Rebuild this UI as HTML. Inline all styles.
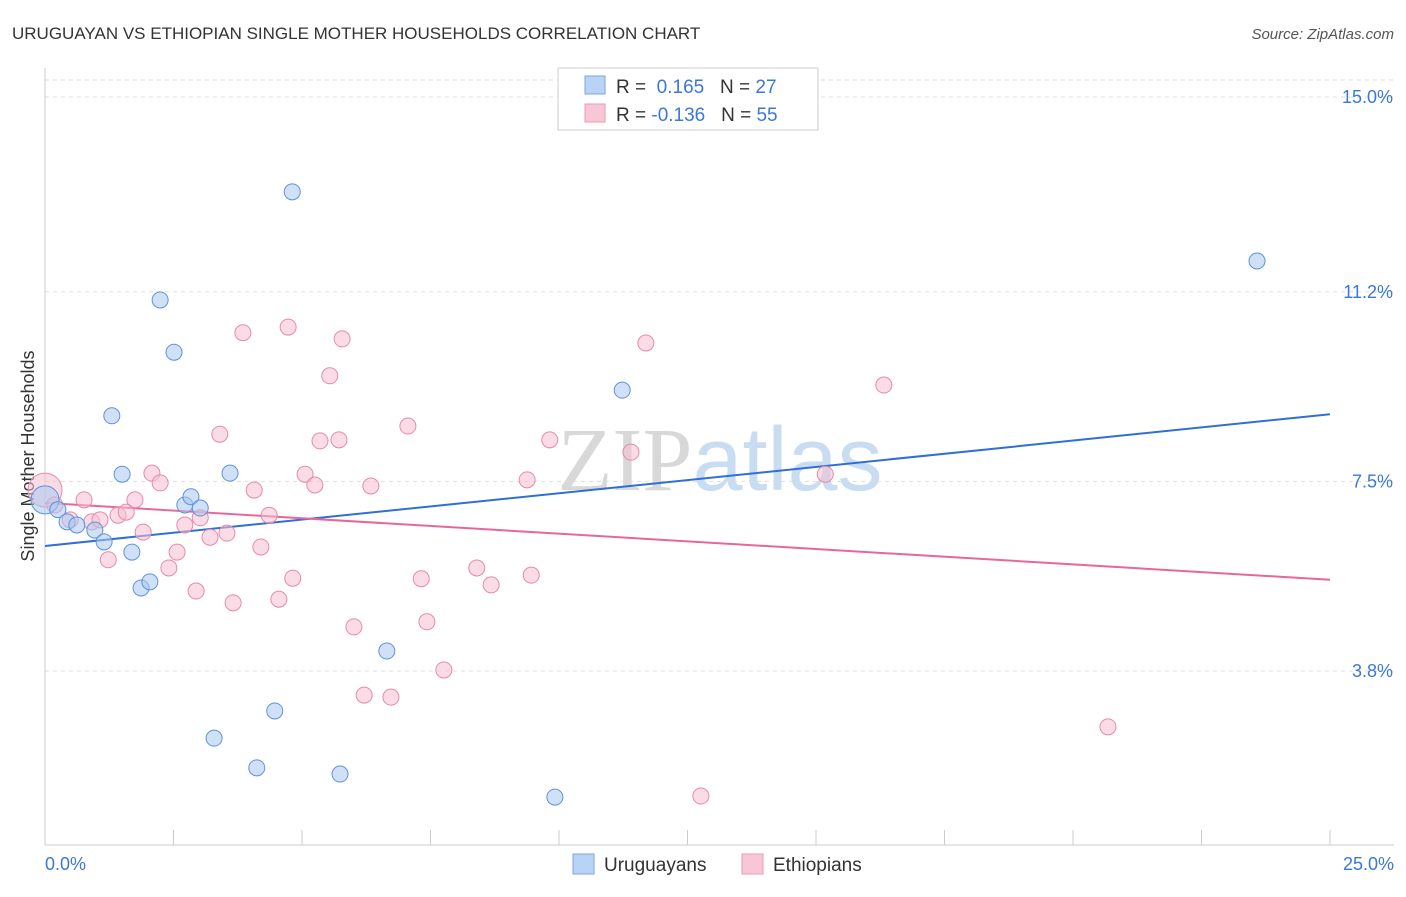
<!DOCTYPE html>
<html><head><meta charset="utf-8"><style>
body{margin:0;background:#fff;font-family:"Liberation Sans",sans-serif;}
</style></head><body>
<svg id="chart" width="1406" height="892" xmlns="http://www.w3.org/2000/svg" font-family="Liberation Sans, sans-serif">
<text x="12" y="39" font-size="17" fill="#333">URUGUAYAN VS ETHIOPIAN SINGLE MOTHER HOUSEHOLDS CORRELATION CHART</text>
<text x="1394" y="39" font-size="15" fill="#555" text-anchor="end" font-style="italic">Source: ZipAtlas.com</text>
<text x="720" y="490" font-size="90" text-anchor="middle"><tspan fill="#d8d8d8" font-family="Liberation Serif, serif">ZIP</tspan><tspan fill="#c8dcf2">atlas</tspan></text>
<text transform="translate(34,456) rotate(-90)" font-size="18" fill="#333" text-anchor="middle">Single Mother Households</text>
<g id="grid"></g><g id="ticks"></g><g id="trends"></g><g id="points"></g>
<g>
<rect x="558" y="68" width="260" height="62" fill="#fff" stroke="#ccc"/>
<rect x="585" y="76" width="20" height="18" fill="#b8d3f5" stroke="#7aa7e0"/>
<rect x="585" y="104" width="20" height="18" fill="#f9c6d6" stroke="#e99ab5"/>
<text x="616" y="93" font-size="19" fill="#333">R = <tspan fill="#3b78d8">&#160;0.165</tspan>&#160;&#160;&#160;N = <tspan fill="#3b78d8">27</tspan></text>
<text x="616" y="121" font-size="19" fill="#333">R = <tspan fill="#3b78d8">-0.136</tspan>&#160;&#160;&#160;N = <tspan fill="#3b78d8">55</tspan></text>
</g>
<g>
<rect x="573" y="854" width="21" height="20" fill="#b8d3f5" stroke="#7aa7e0"/>
<text x="604" y="871" font-size="19" fill="#333">Uruguayans</text>
<rect x="742" y="854" width="21" height="20" fill="#f9c6d6" stroke="#e99ab5"/>
<text x="773" y="871" font-size="19" fill="#333">Ethiopians</text>
</g>
</svg>
<script>
const yTicks=[15.0,11.2,7.5,3.8];
const yTickLabels=["15.0%","11.2%","7.5%","3.8%"];
const xTickLabels=["0.0%","25.0%"];
const blueX=[0,0.25,0.43,0.62,0.97,1.15,1.30,1.50,1.69,1.87,2.04,2.24,2.51,2.72,2.84,3.02,3.29,3.60,4.12,4.47,4.81,5.74,6.65,9.92,11.23,23.58];
const blueY=[7.14,6.95,6.71,6.65,6.55,6.32,8.78,7.64,6.12,5.42,5.54,11.04,10.02,7.04,7.20,6.98,2.49,7.66,1.91,3.02,13.15,1.79,4.19,1.34,9.28,11.80];
const pinkX=[0,0.19,0.49,0.76,0.91,1.07,1.23,1.42,1.58,1.75,1.91,2.08,2.24,2.41,2.57,2.72,2.94,3.02,3.21,3.40,3.54,3.66,3.85,4.07,4.20,4.36,4.55,4.73,4.82,5.06,5.25,5.35,5.54,5.72,5.78,6.01,6.21,6.34,6.73,7.06,7.32,7.43,7.76,8.40,8.68,9.38,9.46,9.82,11.40,11.69,12.76,15.18,16.32,20.68];
const pinkY=[7.33,7.04,6.75,7.14,6.71,6.75,5.97,6.84,6.90,7.14,6.51,7.66,7.47,5.81,6.12,6.65,5.36,6.79,6.41,8.42,6.49,5.13,10.40,7.33,6.22,6.84,5.20,10.51,5.61,7.64,7.43,8.29,9.56,8.31,10.28,4.66,3.33,7.41,3.29,8.58,5.60,4.76,3.82,5.81,5.48,7.53,5.67,8.31,8.07,10.20,1.36,7.64,9.38,2.71];
const blueTrend=[6.24,8.81];
const pinkTrend=[7.08,5.58];
const xs=v=>45+v*(1330-45)/25;
const ys=v=>97+(15-v)*51.25;
const NS="http://www.w3.org/2000/svg";
function mk(t,a,p){const e=document.createElementNS(NS,t);for(const k in a)e.setAttribute(k,a[k]);p.appendChild(e);return e;}
const grid=document.getElementById('grid'),ticks=document.getElementById('ticks');
let l=mk('line',{x1:45,x2:1394,y1:80,y2:80,stroke:'#ddd','stroke-dasharray':'4 4'},grid);


yTicks.forEach((v,i)=>{
 const g=mk('line',{x1:45,x2:1394,y1:ys(v),y2:ys(v),stroke:'#ddd','stroke-dasharray':'4 4'},grid);
 
 
 const t=mk('text',{x:1393,y:ys(v)+6,'font-size':18,fill:'#3b78d8','text-anchor':'end'},ticks);
 t.textContent=yTickLabels[i];
 
 
});
let ax=mk('line',{x1:45,x2:45,y1:68,y2:845,stroke:'#ccc'},ticks);


let bx=mk('line',{x1:45,x2:1394,y1:845,y2:845,stroke:'#ccc'},ticks);


for(let i=0;i<=10;i++){const tk=mk('line',{x1:xs(i*2.5),x2:xs(i*2.5),y1:830,y2:845,stroke:'#ccc'},ticks);
 
 }
[[0,'start',45],[25,'end',1394]].forEach((d,i)=>{const t=mk('text',{x:d[2],y:870,'font-size':18,fill:'#3b78d8','text-anchor':d[1]},ticks);t.textContent=xTickLabels[i];
 
 });
const pts=document.getElementById('points');
function dots(X,Y,fill,stroke,name){X.forEach((x,i)=>{const r=(x===0)?(name==='ethiopian-point'?17:14):8;
 const c=mk('circle',{cx:xs(x),cy:ys(Y[i]),r:r,fill:fill,'fill-opacity':0.55,stroke:stroke,'stroke-width':1},pts);
 
 });}
dots(pinkX,pinkY,'#f7bfd2','#e58aab','ethiopian-point');
dots(blueX,blueY,'#a9c9f1','#5d93dc','uruguayan-point');
const tr=document.getElementById('trends');
const bt=mk('line',{x1:xs(0),y1:ys(blueTrend[0]),x2:xs(25),y2:ys(blueTrend[1]),stroke:'#2f6fd6','stroke-width':2},tr);


const pt=mk('line',{x1:xs(0),y1:ys(pinkTrend[0]),x2:xs(25),y2:ys(pinkTrend[1]),stroke:'#e8679a','stroke-width':2},tr);


</script>
</body></html>
